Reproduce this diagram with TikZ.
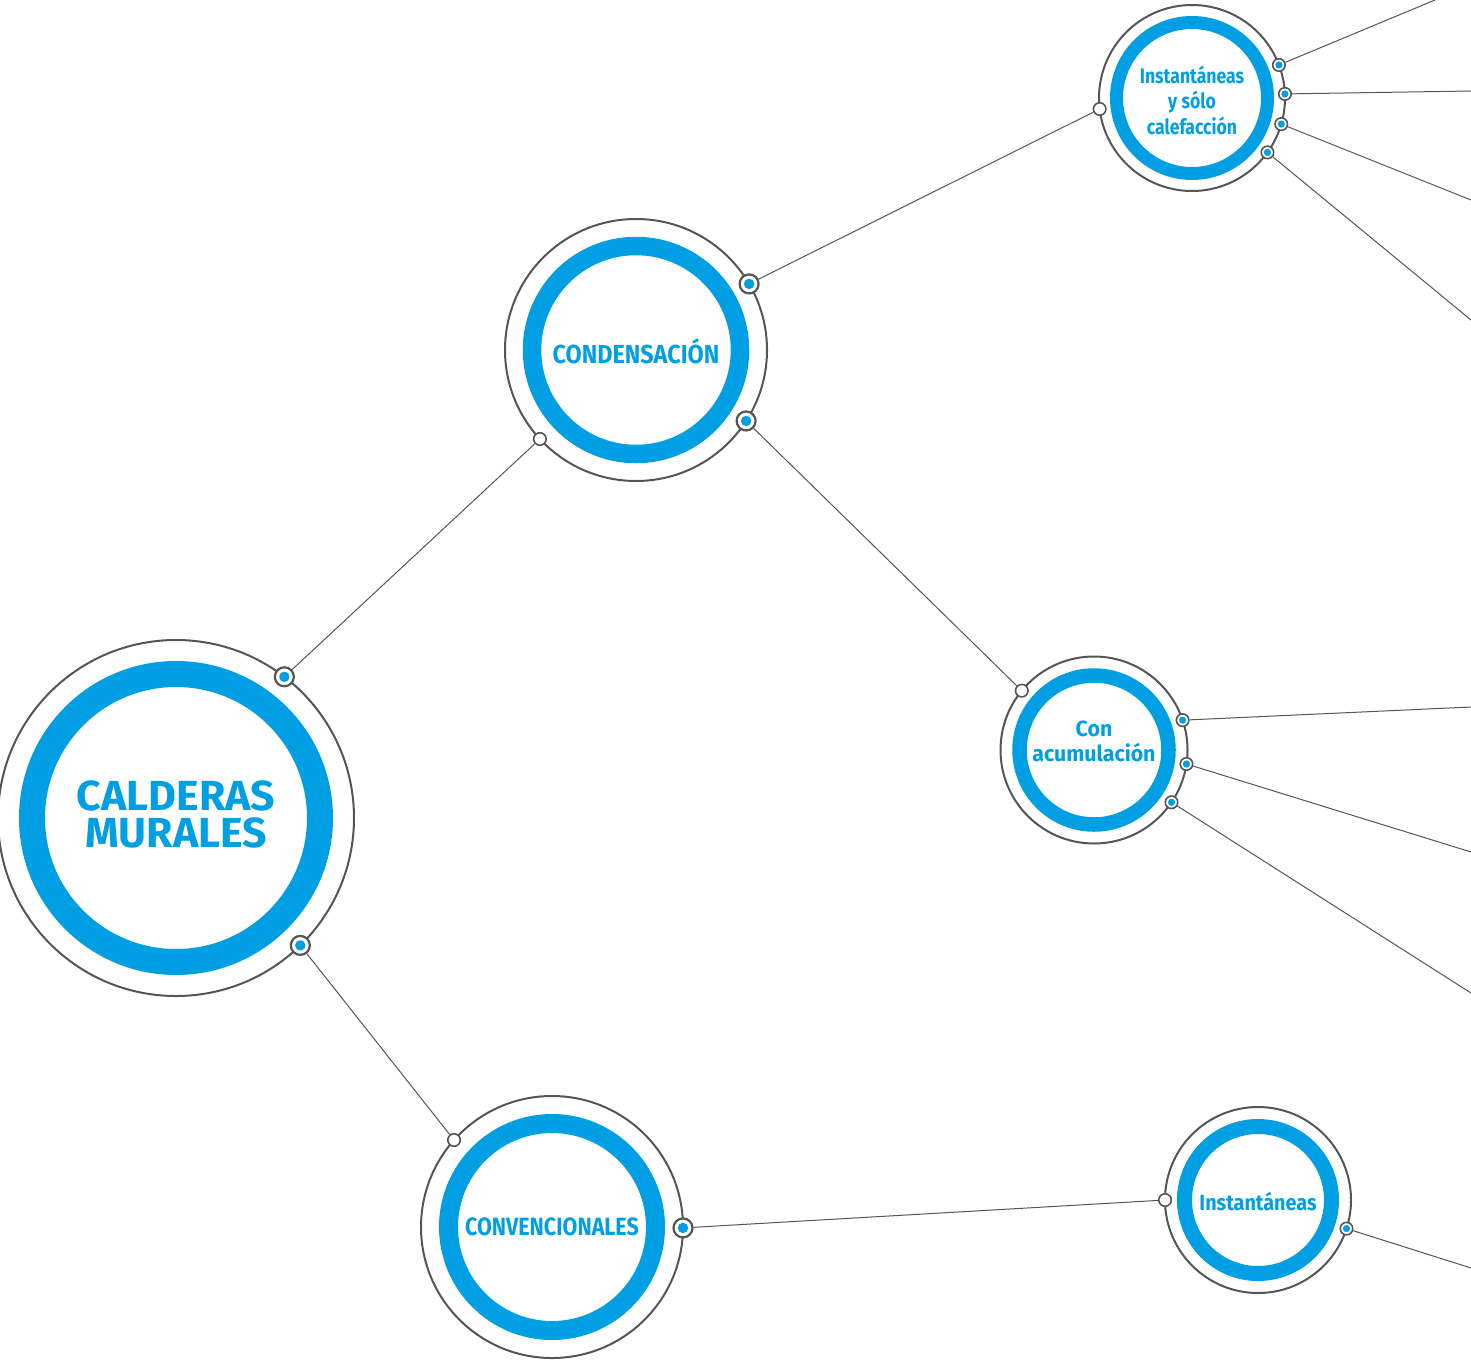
\documentclass[tikz,border=0pt]{standalone}
\usepackage{fontspec}
\newfontfamily\fontcm[FakeStretch=1.02]{Fira Sans}
\newfontfamily\fontcd[FakeStretch=0.9]{Fira Sans}
\newfontfamily\fontcv[FakeStretch=0.86]{Fira Sans}
\newfontfamily\fontic[FakeStretch=0.84]{Fira Sans}
\newfontfamily\fontca[FakeStretch=0.97]{Fira Sans}
\newfontfamily\fontin[FakeStretch=0.9]{Fira Sans}
\definecolor{cblue}{HTML}{009FE3}
\definecolor{gry}{HTML}{555555}
\pgfdeclarelayer{bg}
\pgfsetlayers{bg,main}
\tikzset{
  outerring/.style={circle, draw=gry, line width=2pt, inner sep=0pt},
  bigdot/.style={circle, draw=gry, line width=2.2pt, fill=white, minimum size=19pt, inner sep=0pt,
    path picture={\fill[cblue] (path picture bounding box.center) circle (5.2pt);}},
  smalldot/.style={circle, draw=gry, line width=1.6pt, fill=white, minimum size=12.5pt, inner sep=0pt,
    path picture={\fill[cblue] (path picture bounding box.center) circle (3.6pt);}},
  whitedot/.style={circle, draw=gry, line width=1.6pt, fill=white, minimum size=12.5pt, inner sep=0pt},
  conn/.style={draw=gry, line width=1pt},
  lbl/.style={text=cblue, align=center, inner sep=0pt}
}
\begin{document}
\begin{tikzpicture}[x=1pt,y=-1pt]
\useasboundingbox (0,0) rectangle (1471,1362);
\clip (0,0) rectangle (1471,1362);

% CALDERAS MURALES
\node[outerring, minimum size=356pt] (cm) at (176,818) {};
\draw[cblue, line width=26pt] (cm.center) circle (144pt);
\node[lbl, anchor=base, text height=30pt, text depth=0pt, font=\fontcm\bfseries\fontsize{42}{37}\selectfont] (cmt1) at (176,810) {CALDERAS};
\node[lbl, anchor=base, text height=30pt, text depth=0pt, font=\fontcm\bfseries\fontsize{42}{37}\selectfont] (cmt2) at (176,847) {MURALES};

% CONDENSACION
\node[outerring, minimum size=262pt] (cd) at (636,350) {};
\draw[cblue, line width=18.5pt] (cd.center) circle (104pt);
\node[lbl, font=\fontcd\bfseries\fontsize{26}{30}\selectfont] (cdt) at (636,351) {CONDENSACIÓN};

% Instantaneas y solo calefaccion
\node[outerring, minimum size=186pt] (ic) at (1192,98) {};
\draw[cblue, line width=13pt] (ic.center) circle (75.5pt);
\node[lbl, font=\fontic\bfseries\fontsize{21}{25.5}\selectfont] (ict) at (1192,100) {Instantáneas\\y sólo\\calefacción};

% Con acumulacion
\node[outerring, minimum size=187pt] (ca) at (1094,750) {};
\draw[cblue, line width=14.5pt] (ca.center) circle (74.5pt);
\node[lbl, font=\fontca\bfseries\fontsize{22}{25}\selectfont] (cat) at (1094,741) {Con\\acumulación};

% CONVENCIONALES
\node[outerring, minimum size=262pt] (cv) at (552,1227) {};
\draw[cblue, line width=19pt] (cv.center) circle (103.5pt);
\node[lbl, font=\fontcv\bfseries\fontsize{25}{30}\selectfont] (cvt) at (552,1227) {CONVENCIONALES};

% Instantaneas
\node[outerring, minimum size=186pt] (in) at (1258,1200) {};
\draw[cblue, line width=15pt] (in.center) circle (73.5pt);
\node[lbl, font=\fontin\bfseries\fontsize{22}{26}\selectfont] (int) at (1258,1201) {Instantáneas};

% dots
\node[bigdot] (cm1) at ([shift={(52.5:178pt)}]cm.center) {};
\node[bigdot] (cm2) at ([shift={(-45.7:178pt)}]cm.center) {};
\node[bigdot] (cd1) at ([shift={(30.3:131pt)}]cd.center) {};
\node[bigdot] (cd2) at ([shift={(-32.8:131pt)}]cd.center) {};
\node[whitedot] (cd0) at ([shift={(222.8:131pt)}]cd.center) {};
\node[smalldot] (ic1) at ([shift={(20.8:93pt)}]ic.center) {};
\node[smalldot] (ic2) at ([shift={(2.5:93pt)}]ic.center) {};
\node[smalldot] (ic3) at ([shift={(-16.3:93pt)}]ic.center) {};
\node[smalldot] (ic4) at ([shift={(-35.8:93pt)}]ic.center) {};
\node[whitedot] (ic0) at ([shift={(186.8:93pt)}]ic.center) {};
\node[smalldot] (ca1) at ([shift={(18.6:93.5pt)}]ca.center) {};
\node[smalldot] (ca2) at ([shift={(-8.6:93.5pt)}]ca.center) {};
\node[smalldot] (ca3) at ([shift={(-34:93.5pt)}]ca.center) {};
\node[whitedot] (ca0) at ([shift={(140.6:93.5pt)}]ca.center) {};
\node[bigdot] (cv1) at ([shift={(-0.4:131pt)}]cv.center) {};
\node[whitedot] (cv0) at ([shift={(138.4:131pt)}]cv.center) {};
\node[smalldot] (in1) at ([shift={(-17.9:93pt)}]in.center) {};
\node[whitedot] (in0) at ([shift={(180:93pt)}]in.center) {};

% free ends
\coordinate (e1) at (1435,0);
\coordinate (e2) at (1471,91);
\coordinate (e3) at (1471,200);
\coordinate (e4) at (1471,320);
\coordinate (e5) at (1471,707);
\coordinate (e6) at (1471,852);
\coordinate (e7) at (1471,993);
\coordinate (e8) at (1471,1268);

\begin{pgfonlayer}{bg}
\draw[conn] (cm1) -- (cd0);
\draw[conn] (cm2) -- (cv0);
\draw[conn] (cd1) -- (ic0);
\draw[conn] (cd2) -- (ca0);
\draw[conn] (cv1) -- (in0);
\draw[conn] (ic1) -- (e1);
\draw[conn] (ic2) -- (e2);
\draw[conn] (ic3) -- (e3);
\draw[conn] (ic4) -- (e4);
\draw[conn] (ca1) -- (e5);
\draw[conn] (ca2) -- (e6);
\draw[conn] (ca3) -- (e7);
\draw[conn] (in1) -- (e8);
\end{pgfonlayer}
\end{tikzpicture}
\end{document}
